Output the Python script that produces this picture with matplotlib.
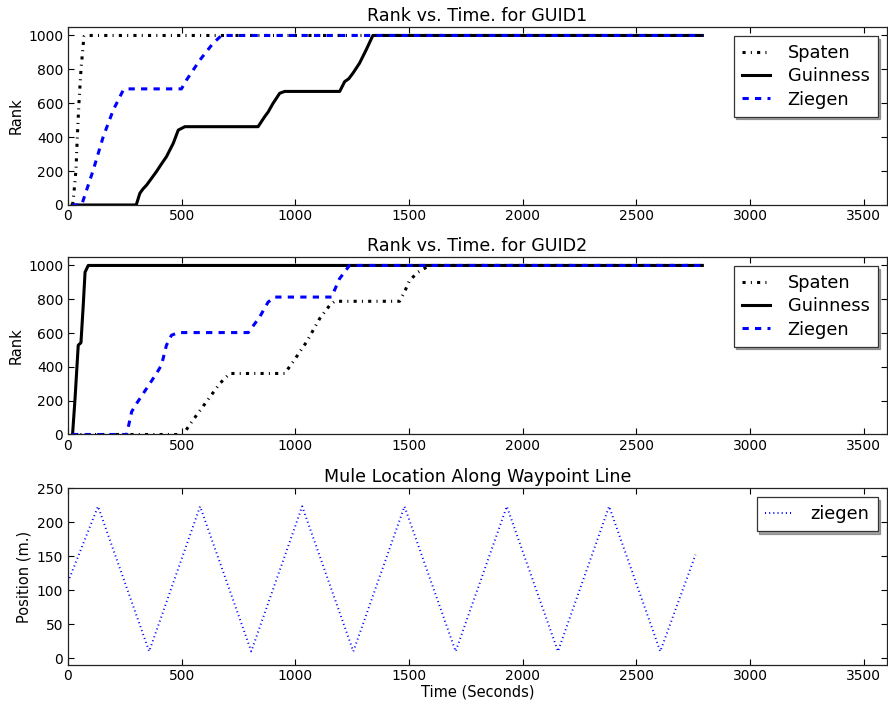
import matplotlib
matplotlib.use("Agg")
import matplotlib.pyplot as plt

# Rank histories (time in seconds, rank value)
spaten1_t = [20, 26, 35, 41, 48, 57, 70, 75, 2790]
spaten1_r = [0, 70, 206, 403, 600, 796, 993, 1000, 1000]

guinness1_t = [18, 300, 316, 330, 346, 389, 410, 433, 463, 485, 514, 836, 865,
               880, 902, 931, 953, 1195, 1217, 1235, 1253, 1282, 1311, 1341, 2790]
guinness1_r = [0, 0, 69, 95, 118, 197, 240, 285, 364, 442, 462, 462, 521,
               548, 600, 659, 670, 670, 728, 745, 777, 836, 914, 1000, 1000]

ziegen1_t = [18, 60, 111, 155, 199, 243, 258, 499, 521, 580, 638, 675, 2790]
ziegen1_r = [0, 0, 206, 403, 560, 678, 685, 685, 737, 855, 954, 1000, 1000]

spaten2_t = [18, 506, 550, 609, 668, 711, 953, 990, 1049, 1107, 1151, 1173,
             1458, 1480, 1502, 1539, 1590, 2790]
spaten2_r = [0, 0, 86, 194, 302, 361, 361, 430, 547, 686, 764, 788,
             788, 843, 911, 960, 1000, 1000]

guinness2_t = [20, 31, 45, 57, 67, 75, 89, 2790]
guinness2_r = [0, 213, 528, 543, 764, 960, 1000, 1000]

ziegen2_t = [18, 258, 280, 302, 346, 389, 411, 433, 455, 485, 793, 843, 880,
             909, 1159, 1194, 1238, 2790]
ziegen2_r = [0, 0, 135, 184, 273, 361, 410, 528, 587, 603, 603, 695, 783,
             813, 813, 921, 1000, 1000]

# Mule position along the waypoint line
mule_t = [0, 132, 357, 581, 806, 1030, 1255, 1480, 1705, 1930, 2155, 2380, 2605, 2760]
mule_pos = [112, 223, 10, 223, 10, 223, 10, 223, 10, 223, 10, 223, 10, 152]

x_ticks = [0, 500, 1000, 1500, 2000, 2500, 3000, 3500]
rank_ticks = [0, 200, 400, 600, 800, 1000]
pos_ticks = [0, 50, 100, 150, 200, 250]

plt.rcParams["lines.scale_dashes"] = False
plt.rcParams["font.family"] = "DejaVu Sans"

DASHED = (0, (4.5, 4.5))
DASHDOT = (0, (2.25, 3.75, 0.75, 3.75))
DOTTED = (0, (0.75, 2.25))
LW = 2.2

fig = plt.figure(figsize=(8.88, 7.02), dpi=100)

left, width = 68 / 888, (886.5 - 68) / 888
ax1 = fig.add_axes([left, 1 - 205 / 702, width, (205 - 27) / 702])
ax2 = fig.add_axes([left, 1 - 434.5 / 702, width, (434.5 - 257) / 702])
ax3 = fig.add_axes([left, 1 - 665 / 702, width, (665 - 488) / 702])


def style(ax):
    ax.tick_params(direction="in", top=True, right=True, length=4, width=0.8,
                   labelsize=10)
    ax.tick_params(axis="x", pad=3)
    ax.tick_params(axis="y", pad=3.5)
    for s in ax.spines.values():
        s.set_linewidth(0.9)
        s.set_color("#222222")


def legend(ax):
    leg = ax.legend(loc="upper right", shadow=True, fancybox=False, framealpha=1,
                    fontsize=12.8, handlelength=1.6, handletextpad=1.0,
                    borderpad=0.45, labelspacing=0.3, borderaxespad=0.5)
    leg.get_frame().set_edgecolor("#333333")
    leg.get_frame().set_linewidth(0.9)
    return leg


for ax, title, data in [
    (ax1, "Rank vs. Time. for GUID1",
     [(spaten1_t, spaten1_r), (guinness1_t, guinness1_r), (ziegen1_t, ziegen1_r)]),
    (ax2, "Rank vs. Time. for GUID2",
     [(spaten2_t, spaten2_r), (guinness2_t, guinness2_r), (ziegen2_t, ziegen2_r)]),
]:
    (st, sr), (gt, gr), (zt, zr) = data
    ax.plot(st, sr, color="black", lw=LW, linestyle=DASHDOT, label="Spaten")
    ax.plot(gt, gr, color="black", lw=LW, linestyle="-", label="Guinness")
    ax.plot(zt, zr, color="blue", lw=LW, linestyle=DASHED, label="Ziegen")
    ax.set_xlim(0, 3600)
    ax.set_ylim(0, 1050)
    ax.set_xticks(x_ticks)
    ax.set_yticks(rank_ticks)
    ax.set_title(title, fontsize=12.6, pad=4)
    ax.set_ylabel("Rank", fontsize=10.5, labelpad=3)
    style(ax)
    legend(ax)

ax3.plot(mule_t, mule_pos, color="blue", lw=1.4, linestyle=DOTTED, label="ziegen")
ax3.set_xlim(0, 3600)
ax3.set_ylim(-10, 250)
ax3.set_xticks(x_ticks)
ax3.set_yticks(pos_ticks)
ax3.set_title("Mule Location Along Waypoint Line", fontsize=12.6, pad=4)
ax3.set_ylabel("Position (m.)", fontsize=10.5, labelpad=4)
ax3.set_xlabel("Time (Seconds)", fontsize=10.5, labelpad=1)
style(ax3)
legend(ax3)

fig.savefig("out.png", dpi=100)
